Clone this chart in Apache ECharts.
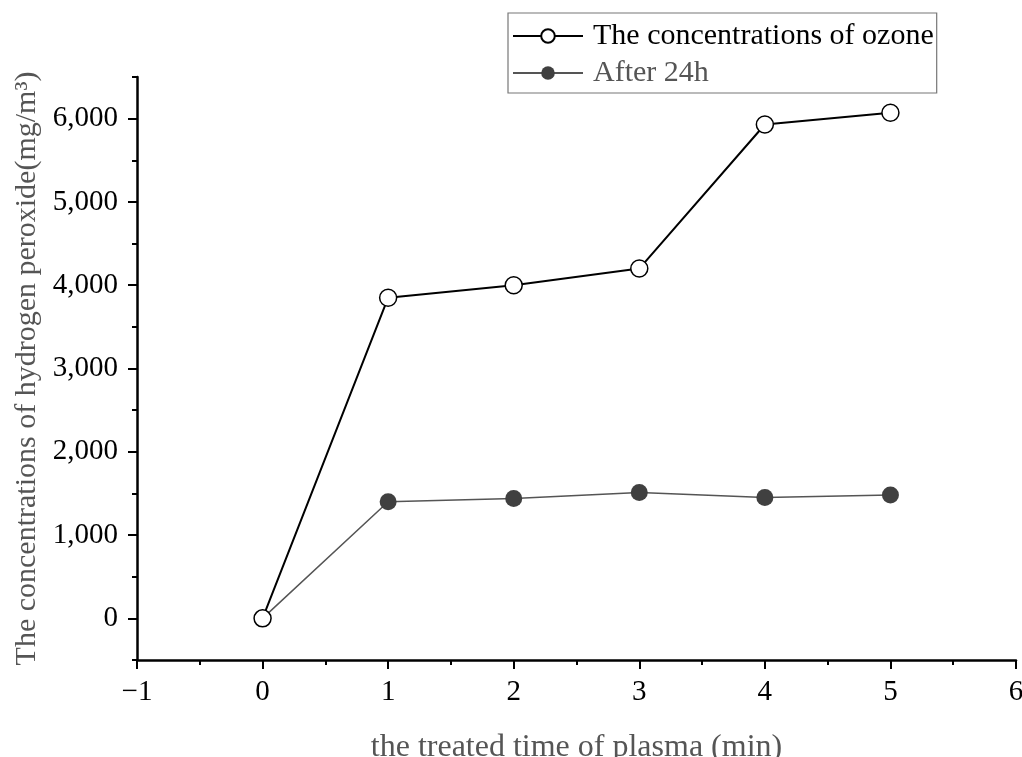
<!DOCTYPE html>
<html>
<head>
<meta charset="utf-8">
<script src="https://cdn.jsdelivr.net/npm/echarts@6/dist/echarts.min.js"></script>
<style>
html, body { margin: 0; padding: 0; background: #fff; }
#chart { width: 1022px; height: 757px; }
</style>
</head>
<body>
<div id="chart"></div>
<script>
// treated time (min)
var times = [0, 1, 2, 3, 4, 5];
// hydrogen peroxide concentration (mg/m3)
var ozoneValues = [0, 3850, 4000, 4200, 5930, 6070];
var after24hValues = [0, 1400, 1440, 1510, 1450, 1480];
var yMajorTicks = [0, 1000, 2000, 3000, 4000, 5000, 6000];
var yMinorTicks = [-500, 500, 1500, 2500, 3500, 4500, 5500, 6500];

var font = '"Liberation Serif", "DejaVu Serif", serif';

function pairs(xs, ys) {
    return xs.map(function (x, i) { return [x, ys[i]]; });
}

var chart = echarts.init(document.getElementById('chart'));

var option = {
    animation: false,
    backgroundColor: '#fff',
    grid: { left: 137, right: 6, top: 77, bottom: 97, outerBoundsMode: 'none', containLabel: false },
    legend: {
        orient: 'vertical',
        left: 508,
        top: 13,
        padding: [8, 3, 5, 4],
        itemGap: 7,
        itemWidth: 70,
        itemHeight: 17,
        borderColor: '#777',
        borderWidth: 1.2,
        textStyle: { fontFamily: font, fontSize: 30, lineHeight: 30, color: '#000', padding: [0, 0, 0, 5] },
        data: [
            { name: 'The concentrations of ozone', textStyle: { color: '#000' } },
            { name: 'After 24h', textStyle: { color: '#555' } }
        ]
    },
    xAxis: {
        type: 'value',
        min: -1,
        max: 6,
        interval: 1,
        name: 'the treated time of plasma (min)',
        nameLocation: 'middle',
        nameGap: 72,
        nameTextStyle: { fontFamily: font, fontSize: 32, color: '#555' },
        axisLine: { show: true, onZero: false, lineStyle: { color: '#000', width: 2.5 } },
        axisTick: { show: true, inside: false, length: 9, lineStyle: { color: '#000', width: 2 } },
        minorTick: { show: true, splitNumber: 2, length: 5, lineStyle: { color: '#000', width: 2 } },
        axisLabel: {
            margin: 18,
            fontFamily: font, fontSize: 29, color: '#000',
            formatter: function (v) { return v < 0 ? '\u2212' + Math.abs(v) : String(v); }
        },
        splitLine: { show: false }
    },
    yAxis: [{
        type: 'value',
        min: -500,
        max: 6500,
        name: 'The concentrations of hydrogen peroxide(mg/m\u00b3)',
        nameLocation: 'middle',
        nameGap: 93,
        nameTextStyle: { fontFamily: font, fontSize: 30, color: '#555' },
        axisLine: { show: true, onZero: false, lineStyle: { color: '#000', width: 2.5 } },
        axisTick: {
            show: true, inside: false, length: 9,
            customValues: yMajorTicks,
            lineStyle: { color: '#000', width: 2 }
        },
        axisLabel: {
            margin: 19,
            customValues: yMajorTicks,
            fontFamily: font, fontSize: 29, color: '#000',
            formatter: function (v) { return v.toLocaleString('en-US'); }
        },
        splitLine: { show: false }
    }, {
        type: 'value',
        min: -500,
        max: 6500,
        position: 'left',
        offset: 0,
        axisLine: { show: false, onZero: false },
        axisTick: {
            show: true, inside: false, length: 5,
            customValues: yMinorTicks,
            lineStyle: { color: '#000', width: 2 }
        },
        axisLabel: { show: false },
        splitLine: { show: false }
    }],
    series: [{
        name: 'The concentrations of ozone',
        type: 'line',
        data: pairs(times, ozoneValues),
        symbol: 'circle',
        symbolSize: 17,
        lineStyle: { color: '#000', width: 2 },
        itemStyle: { color: '#fff', borderColor: '#000', borderWidth: 1.5 },
        z: 3
    }, {
        name: 'After 24h',
        type: 'line',
        data: pairs(times, after24hValues),
        symbol: 'circle',
        symbolSize: 17,
        lineStyle: { color: '#555', width: 1.5 },
        itemStyle: { color: '#404040', borderColor: '#404040', borderWidth: 0 },
        z: 2
    }]
};

chart.setOption(option);
</script>
</body>
</html>
